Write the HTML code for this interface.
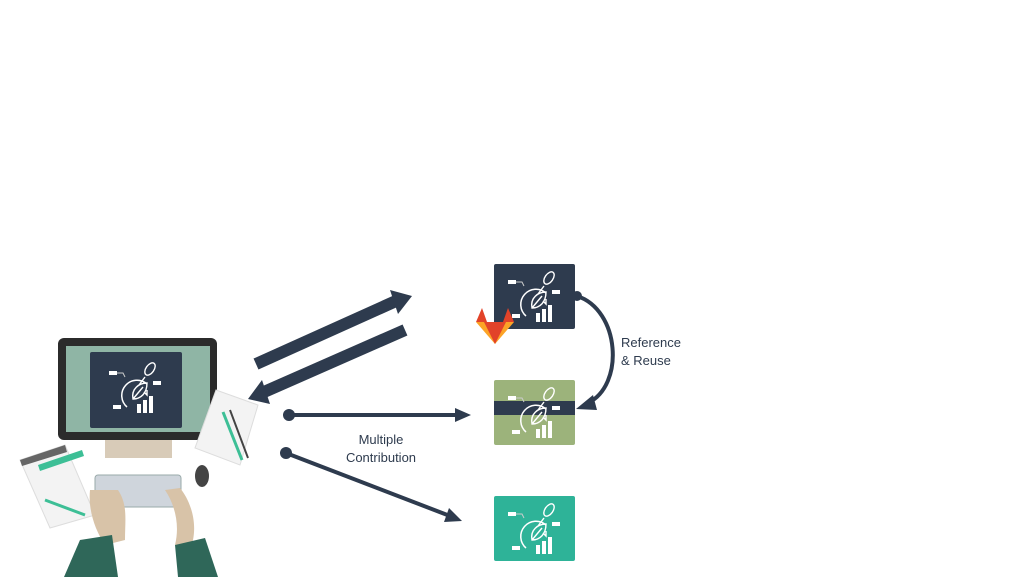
<!DOCTYPE html>
<html><head><meta charset="utf-8"><style>
html,body{margin:0;padding:0;background:#fff;width:1025px;height:577px;overflow:hidden}
svg{display:block}
text{font-family:"Liberation Sans",sans-serif;fill:#2e3b4e}
</style></head><body>
<svg width="1025" height="577" viewBox="0 0 1025 577">
<defs>
<g id="icon">
 <rect x="14" y="16" width="8" height="4" fill="#fff"/>
 <rect x="58" y="26" width="8" height="4" fill="#fff"/>
 <rect x="18" y="50" width="8" height="4" fill="#fff"/>
 <path d="M22 18 H28 L30 22" stroke="#ccc" stroke-width="1" fill="none"/>
 <path d="M52 29 A15 15 0 1 0 32 52" stroke="#fff" stroke-width="1.5" fill="none"/>
 <path d="M38 44 C36 34 44 28 52 28 C52 38 46 44 38 44 Z M38 44 L48 32" stroke="#fff" stroke-width="1.4" fill="none"/>
 <ellipse cx="55" cy="14" rx="4" ry="7" transform="rotate(35 55 14)" stroke="#fff" stroke-width="1.4" fill="none"/>
 <path d="M50 22 L44 30 M52 35 L52 40 L49 37" stroke="#fff" stroke-width="1.4" fill="none"/>
 <rect x="42" y="49" width="4" height="9" fill="#fff"/>
 <rect x="48" y="45" width="4" height="13" fill="#fff"/>
 <rect x="54" y="41" width="4" height="17" fill="#fff"/>
</g>
<marker id="ah" markerWidth="6" markerHeight="6" refX="3" refY="3" orient="auto" markerUnits="strokeWidth"><path d="M0 0 L6 3 L0 6 Z" fill="#2e3b4e"/></marker>
</defs>

<!-- monitor -->
<g>
 <rect x="105" y="438" width="67" height="20" fill="#d8cbb8"/>
 <rect x="58" y="338" width="159" height="102" rx="6" fill="#2b2b2b"/>
 <rect x="66" y="346" width="144" height="86" fill="#8fb5a5"/>
 <rect x="90" y="352" width="92" height="76" rx="2" fill="#2e3b4e"/>
 <use href="#icon" x="95" y="355"/>
</g>
<g>
 <polygon points="20,460 65,445 95,515 50,528" fill="#f3f3f3" stroke="#ddd"/>
 <polygon points="20,460 65,445 67,452 22,466" fill="#666"/>
 <polygon points="38,465 82,450 84,456 40,471" fill="#3dbf96"/>
 <line x1="45" y1="500" x2="85" y2="515" stroke="#3dbf96" stroke-width="3"/>
</g>
<g>
 <polygon points="216,390 258,405 240,465 195,448" fill="#f3f3f3" stroke="#ddd"/>
 <line x1="223" y1="412" x2="242" y2="460" stroke="#3dbf96" stroke-width="3"/>
 <line x1="230" y1="410" x2="248" y2="458" stroke="#444" stroke-width="2"/>
</g>
<ellipse cx="202" cy="476" rx="7" ry="11" fill="#444"/>
<g>
 <rect x="95" y="475" width="86" height="32" rx="3" fill="#cfd5dc" stroke="#9aa"/>
 <path d="M90 490 C88 510 95 530 105 545 L125 540 C125 520 128 505 118 490 Z" fill="#d8c3a8"/>
 <path d="M165 490 C175 505 180 525 175 545 L190 550 C200 525 190 500 180 488 Z" fill="#d8c3a8"/>
 <path d="M80 540 L112 535 L118 577 L64 577 Z" fill="#2f6759"/>
 <path d="M175 545 L205 538 L218 577 L178 577 Z" fill="#2f6759"/>
</g>

<!-- arrows -->
<g>
 <line x1="256" y1="364" x2="396" y2="301" stroke="#2e3b4e" stroke-width="12"/>
 <polygon points="412,296 390,290 398,314" fill="#2e3b4e"/>
</g>
<g>
 <line x1="405" y1="330" x2="264" y2="392" stroke="#2e3b4e" stroke-width="12"/>
 <polygon points="248,399 270,404 262,380" fill="#2e3b4e"/>
</g>
<g>
 <circle cx="289" cy="415" r="6" fill="#2e3b4e"/>
 <line x1="289" y1="415" x2="458" y2="415" stroke="#2e3b4e" stroke-width="4"/>
 <polygon points="471,415 455,408 455,422" fill="#2e3b4e"/>
</g>
<g>
 <circle cx="286" cy="453" r="6" fill="#2e3b4e"/>
 <line x1="286" y1="453" x2="450" y2="516" stroke="#2e3b4e" stroke-width="4"/>
 <polygon points="462,521 449,508 444,522" fill="#2e3b4e"/>
</g>
<text x="381" y="444" font-size="13" text-anchor="middle">Multiple</text>
<text x="381" y="462" font-size="13" text-anchor="middle">Contribution</text>

<!-- cards -->
<g>
 <rect x="494" y="264" width="81" height="65" rx="2" fill="#2e3b4e"/>
 <use href="#icon" x="494" y="264"/>
</g>
<g>
 <polygon points="476,322 482,308 487,322" fill="#e24329"/>
 <polygon points="503,322 508,308 514,322" fill="#e24329"/>
 <polygon points="476,322 495,344 514,322" fill="#fca326"/>
 <polygon points="484,322 495,344 506,322" fill="#e24329"/>
</g>
<g>
 <rect x="494" y="380" width="81" height="65" rx="2" fill="#9cb37b"/>
 <rect x="494" y="401" width="81" height="14" fill="#2e3b4e"/>
 <use href="#icon" x="494" y="380"/>
</g>
<g>
 <rect x="494" y="496" width="81" height="65" rx="2" fill="#2eb398"/>
 <use href="#icon" x="494" y="496"/>
</g>
<g>
 <circle cx="577" cy="296" r="5" fill="#2e3b4e"/>
 <path d="M577 296 C620 310 625 385 588 403" stroke="#2e3b4e" stroke-width="4" fill="none"/>
 <polygon points="576,409 593,395 597,410" fill="#2e3b4e"/>
</g>
<text x="621" y="347" font-size="13">Reference</text>
<text x="621" y="365" font-size="13">&amp; Reuse</text>
</svg>
</body></html>
